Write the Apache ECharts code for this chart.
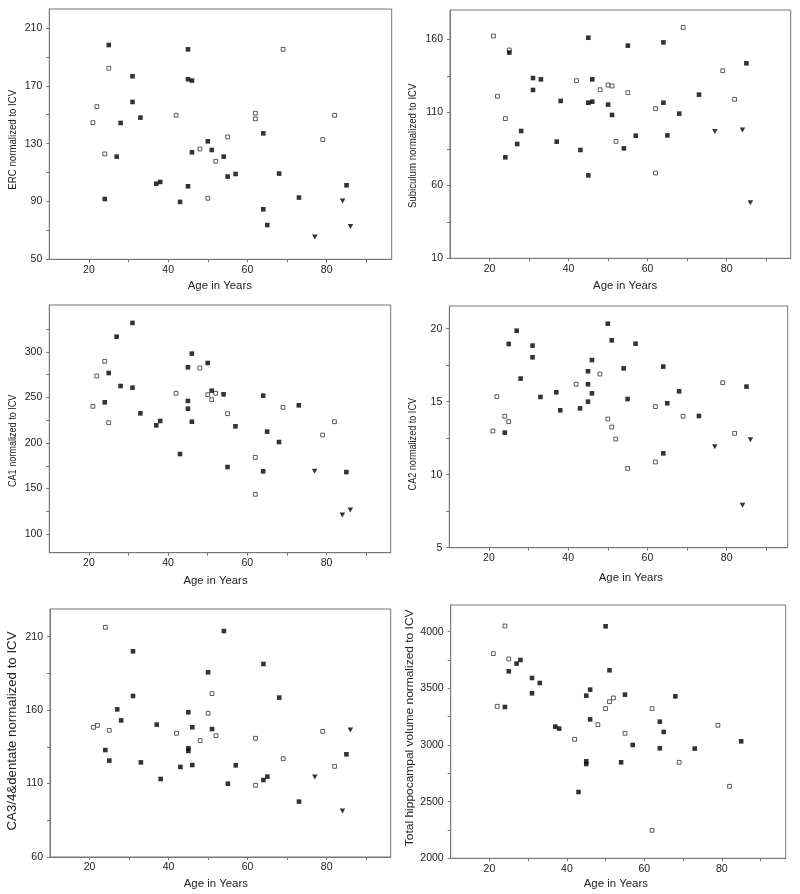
<!DOCTYPE html>
<html>
<head>
<meta charset="utf-8">
<script src="https://cdn.jsdelivr.net/npm/echarts@6/dist/echarts.min.js"></script>
<style>
html,body{margin:0;padding:0;background:#fff;}
#chart{width:800px;height:894px;}
</style>
</head>
<body>
<div id="chart"></div>
<script>
// ---------- data ----------
const xLabelValues = [20, 40, 60, 80];
const xTickValues = [20, 30, 40, 50, 60, 70, 80, 90];

const ercFilled = [[25,198.2],[45,195.2],[31,176.6],[45,174.5],[46,173.6],[31,158.8],[33,148.0],[28,144.3],[64,137.1],[50,131.6],[51,125.6],[46,124.0],[27,121.0],[54,121.0],[57,109.0],[55,107.2],[68,109.3],[37,102.3],[38,103.5],[45,100.5],[85,101.2],[24,91.7],[43,89.7],[73,92.7],[64,84.6],[65,73.7]];
const ercOpen = [[25,182.1],[69,195.2],[22,155.6],[21,144.5],[42,149.6],[62,151.0],[62,147.1],[82,149.6],[55,134.6],[79,132.8],[48,126.3],[24,122.9],[52,117.8],[50,92.2]];
const ercTri = [[77,65.4],[84,90.3],[86,72.6]];
const ercLabels = [50, 90, 130, 170, 210];
const ercTicks = [50, 70, 90, 110, 130, 150, 170, 190, 210];

const subFilled = [[45,161.1],[55,155.7],[64,157.9],[25,150.9],[85,143.6],[31,133.5],[33,132.6],[46,132.6],[31,125.3],[73,122.1],[38,117.8],[45,116.6],[46,117.3],[64,116.6],[50,115.3],[51,108.2],[68,109.1],[28,97.2],[57,94.0],[65,94.2],[37,89.9],[27,88.3],[43,84.2],[54,85.3],[24,79.2],[45,66.8]];
const subOpen = [[21,162.3],[25,152.7],[69,168.2],[22,121.0],[24,105.7],[42,131.7],[48,125.5],[50,128.7],[51,128.0],[55,123.5],[52,90.1],[62,112.5],[62,68.4],[79,138.5],[82,118.9]];
const subTri = [[77,96.8],[84,97.9],[86,48.1]];
const subLabels = [10, 60, 110, 160];
const subTicks = [10, 35, 60, 85, 110, 135, 160];

const ca1Filled = [[31,331.9],[27,316.8],[46,298.2],[50,287.9],[45,283.2],[25,276.9],[28,262.6],[31,260.8],[51,257.5],[54,253.5],[64,252.0],[45,246.2],[24,244.7],[73,241.4],[45,237.7],[33,232.6],[38,224.2],[46,223.4],[37,219.4],[57,218.3],[65,212.5],[68,201.1],[43,187.9],[55,173.6],[64,168.9],[85,168.1]];
const ca1Open = [[24,289.7],[22,273.6],[48,282.4],[42,254.6],[50,253.1],[52,254.6],[51,247.6],[21,240.3],[25,222.3],[55,232.2],[69,239.2],[82,223.4],[79,208.8],[62,184.2],[62,143.6]];
const ca1Tri = [[77,168.9],[84,120.9],[86,126.4]];
const ca1Labels = [100, 150, 200, 250, 300];
const ca1Ticks = [100, 125, 150, 175, 200, 225, 250, 275, 300, 325];

const ca2Filled = [[50,20.34],[27,19.86],[51,19.2],[25,18.95],[57,18.97],[31,18.84],[31,18.04],[46,17.85],[54,17.28],[64,17.4],[45,17.08],[28,16.58],[45,16.19],[85,16.03],[37,15.64],[68,15.71],[46,15.57],[33,15.32],[55,15.18],[45,15.0],[65,14.89],[43,14.54],[38,14.41],[73,14.02],[24,12.88],[64,11.46]];
const ca2Open = [[48,16.89],[42,16.19],[79,16.3],[22,15.34],[62,14.66],[69,14.0],[24,14.0],[25,13.63],[50,13.81],[21,12.99],[51,13.26],[52,12.44],[82,12.83],[55,10.43],[62,10.87]];
const ca2Tri = [[77,11.92],[86,12.4],[84,7.9]];
const ca2Labels = [5, 10, 15, 20];
const ca2Ticks = [5, 7.5, 10, 12.5, 15, 17.5, 20];

const ca3Filled = [[54,213.8],[31,200.0],[64,191.4],[50,185.7],[31,169.6],[68,168.5],[27,160.5],[45,158.5],[28,153.0],[37,150.1],[46,148.3],[51,147.1],[45,134.0],[45,132.2],[24,132.8],[85,129.9],[25,125.6],[33,124.4],[46,122.6],[57,122.4],[43,121.3],[38,113.1],[65,114.7],[64,112.4],[55,109.9],[73,97.7]];
const ca3Open = [[24,216.3],[51,171.2],[50,157.8],[21,148.3],[22,149.6],[25,146.2],[42,144.2],[79,145.5],[52,142.6],[48,139.2],[62,140.8],[69,126.9],[82,121.7],[62,108.8]];
const ca3Tri = [[86,146.5],[77,114.5],[84,91.3]];
const ca3Labels = [60, 110, 160, 210];
const ca3Ticks = [60, 85, 110, 135, 160, 185, 210];

const totFilled = [[50,4047],[25,3650],[27,3718],[28,3750],[51,3659],[31,3591],[33,3547],[46,3488],[45,3435],[55,3444],[68,3429],[31,3456],[24,3335],[46,3226],[37,3162],[38,3144],[64,3206],[65,3115],[85,3032],[57,3000],[64,2971],[73,2968],[45,2856],[45,2832],[54,2847],[43,2585]];
const totOpen = [[24,4050],[21,3806],[25,3759],[22,3341],[52,3415],[51,3382],[50,3321],[62,3321],[48,3179],[79,3174],[55,3103],[42,3050],[69,2847],[82,2635],[62,2247]];
const totTri = [];
const totLabels = [2000, 2500, 3000, 3500, 4000];
const totTicks = [2000, 2250, 2500, 2750, 3000, 3250, 3500, 3750, 4000];

const yTitles = ['ERC normalized to ICV', 'Subiculum normalized to ICV', 'CA1 normalized to ICV', 'CA2 normalized to ICV', 'CA3/4&dentate normalized to ICV', 'Total hippocampal volume normalized to ICV'];
const xTitle = 'Age in Years';

// ---------- layout ----------
const FONT = '"Liberation Sans", Arial, Helvetica, sans-serif';
const panels = [
  {grid:{left:49.3, top:9, width:342.4, height:250.3}, xMax:96.4, yMin:50, yMax:223.1, filled:ercFilled, open:ercOpen, tri:ercTri, labels:ercLabels, ticks:ercTicks,
   yt:{x:12.7, y:139.7, fs:11.5, sx:0.84}, xt:{x:219.8, y:286}},
  {grid:{left:450, top:10, width:340.7, height:248.3}, xMax:96.2, yMin:10, yMax:180.1, filled:subFilled, open:subOpen, tri:subTri, labels:subLabels, ticks:subTicks,
   yt:{x:412.7, y:145.8, fs:11.5, sx:0.84}, xt:{x:625.2, y:286}},
  {grid:{left:49.3, top:305, width:341.4, height:247.7}, xMax:96.2, yMin:79.5, yMax:351.6, filled:ca1Filled, open:ca1Open, tri:ca1Tri, labels:ca1Labels, ticks:ca1Ticks,
   yt:{x:12.7, y:440.8, fs:11.5, sx:0.79}, xt:{x:215.5, y:581}},
  {grid:{left:449.3, top:306, width:338.4, height:241.7}, xMax:95.4, yMin:5, yMax:21.55, filled:ca2Filled, open:ca2Open, tri:ca2Tri, labels:ca2Labels, ticks:ca2Ticks,
   yt:{x:412.7, y:444.2, fs:11.5, sx:0.79}, xt:{x:630.8, y:577.7}},
  {grid:{left:50, top:609, width:340.7, height:248}, xMax:96.2, yMin:60, yMax:228.8, filled:ca3Filled, open:ca3Open, tri:ca3Tri, labels:ca3Labels, ticks:ca3Ticks,
   yt:{x:12.7, y:731, fs:13, sx:1.02}, xt:{x:215.8, y:884.3}},
  {grid:{left:450.7, top:605, width:335, height:253.3}, xMax:96.5, yMin:2000, yMax:4235, filled:totFilled, open:totOpen, tri:totTri, labels:totLabels, ticks:totTicks,
   yt:{x:410, y:727.8, fs:11.5, sx:1.04}, xt:{x:615.8, y:884.3}}
];

const AXIS_COLOR = '#777';
const LABEL_STYLE = {fontSize:10.5, color:'#222', fontFamily:FONT, formatter:function (v) { return String(v); }};

const grids = [], xAxes = [], yAxes = [], series = [], graphics = [];
panels.forEach((p, i) => {
  grids.push(Object.assign({show:true, borderColor:AXIS_COLOR, borderWidth:1, backgroundColor:'rgba(0,0,0,0)', containLabel:false}, p.grid));
  xAxes.push({
    type:'value', gridIndex:i, min:10, max:p.xMax,
    axisLine:{show:true, onZero:false, lineStyle:{color:AXIS_COLOR, width:1}},
    axisTick:{show:true, length:3, customValues:xTickValues, lineStyle:{color:AXIS_COLOR}},
    axisLabel:Object.assign({customValues:xLabelValues, margin:5}, LABEL_STYLE),
    splitLine:{show:false}
  });
  yAxes.push({
    type:'value', gridIndex:i, min:p.yMin, max:p.yMax,
    axisLine:{show:true, onZero:false, lineStyle:{color:AXIS_COLOR, width:1}},
    axisTick:{show:true, length:3, customValues:p.ticks, lineStyle:{color:AXIS_COLOR}},
    axisLabel:Object.assign({customValues:p.labels, margin:7}, LABEL_STYLE),
    splitLine:{show:false}
  });
  series.push({type:'scatter', xAxisIndex:i, yAxisIndex:i, data:p.open, symbol:'rect', symbolSize:3.8,
    itemStyle:{color:'#fff', borderColor:'#333', borderWidth:1}, silent:true});
  series.push({type:'scatter', xAxisIndex:i, yAxisIndex:i, data:p.filled, symbol:'rect', symbolSize:4.6,
    itemStyle:{color:'#000'}, silent:true});
  if (p.tri.length) {
    series.push({type:'scatter', xAxisIndex:i, yAxisIndex:i, data:p.tri, symbol:'triangle', symbolRotate:180, symbolSize:[5.5,5],
      itemStyle:{color:'#000'}, silent:true});
  }
  graphics.push({type:'text', x:p.yt.x, y:p.yt.y, rotation:Math.PI/2, scaleX:p.yt.sx, scaleY:1,
    style:{text:yTitles[i], fontSize:p.yt.fs, fontFamily:FONT, fill:'#222', align:'center', verticalAlign:'middle'}});
  graphics.push({type:'text', x:p.xt.x, y:p.xt.y,
    style:{text:xTitle, fontSize:11.4, fontFamily:FONT, fill:'#222', align:'center', verticalAlign:'middle'}});
});

const chart = echarts.init(document.getElementById('chart'), null, {renderer:'canvas'});
chart.setOption({
  animation:false,
  backgroundColor:'#fff',
  grid:grids, xAxis:xAxes, yAxis:yAxes, series:series, graphic:graphics
});
</script>
</body>
</html>
